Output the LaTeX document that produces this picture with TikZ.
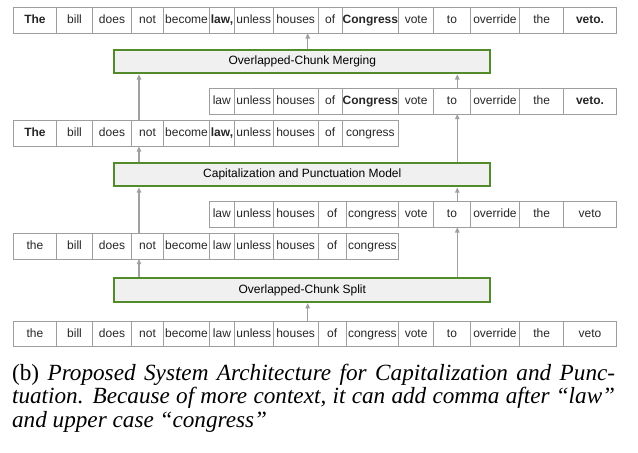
\documentclass[tikz,border=0pt]{standalone}
\usepackage{fontspec}
\setsansfont{Liberation Sans}
\newfontfamily\capfont{Liberation Serif}
\usetikzlibrary{positioning, arrows.meta}

\definecolor{cellline}{HTML}{9E9E9E}
\definecolor{boxline}{HTML}{548B2A}
\definecolor{boxfill}{HTML}{F0F0F0}
\definecolor{flowline}{HTML}{A0A0A0}

\tikzset{
  cell/.style={draw=cellline, line width=0.5pt, inner sep=0pt, outer sep=0pt,
    minimum height=12.8pt, text height=4.5pt, text depth=1.3pt,
    text=black!85, font=\sffamily\fontsize{6}{7}\selectfont},
  stage/.style={draw=boxline, fill=boxfill, line width=1pt, inner sep=0pt,
    minimum width=188pt, minimum height=11.9pt, text height=4.5pt, text depth=1.3pt,
    font=\sffamily\fontsize{6}{7}\selectfont},
  flow/.style={draw=flowline, line width=0.65pt, -{Triangle[length=2.6pt,width=2.2pt]}}
}

% one row of word cells: prefix, start point, list of word/width
\newcommand{\wordrow}[3]{%
  \coordinate (#10) at #2;
  \foreach \wtext/\wlen [count=\i] in {#3}{%
    \pgfmathtruncatemacro\j{\i-1}
    \node[cell, minimum width=\wlen*0.5pt, right=0pt of #1\j] (#1\i) {\wtext};
  }%
}

\begin{document}
\begin{tikzpicture}[x=0.5pt, y=-0.5pt]
    \useasboundingbox (0,0) rectangle (638,452);
    % output and chunks
    \wordrow{a}{(13.3,20.5)}{\textbf{The}/43.4, bill/35.6, does/39.4, not/31.6, become/46.4, {\textbf{law,}}/24.6, unless/39, houses/44.7, of/24.3, \textbf{Congress}/56.2, vote/35.2, to/36.6, override/49.4, the/44, \textbf{veto.}/52.6}
    \wordrow{b}{(209.3,101.2)}{law/25, unless/39, houses/44.7, of/24.3, \textbf{Congress}/56.2, vote/35.2, to/36.6, override/49.4, the/44, \textbf{veto.}/52.6}
    \wordrow{c}{(13.3,133.5)}{\textbf{The}/43.4, bill/35.6, does/39.4, not/31.6, become/46.4, {\textbf{law,}}/24.6, unless/39, houses/44.7, of/24.3, congress/56.2}
    \wordrow{d}{(209.3,214.5)}{law/25, unless/39, houses/44.7, of/28.3, congress/52.2, vote/35.2, to/36.6, override/49.4, the/44, veto/52.6}
    \wordrow{e}{(13.3,246.2)}{the/43.4, bill/35.6, does/39.4, not/31.6, become/46.4, law/24.6, unless/39, houses/44.7, of/28.3, congress/52.2}
    \wordrow{f}{(13.3,334)}{the/43.4, bill/35.6, does/39.4, not/31.6, become/46.4, law/24.6, unless/39, houses/44.7, of/28.3, congress/52.2, vote/35.2, to/36.6, override/49.4, the/44, veto/52.6}
    % stages
    \node[stage] (merge) at (302.3,61.4) {Overlapped-Chunk Merging};
    \node[stage] (cap) at (302.3,174.5) {Capitalization and Punctuation Model};
    \node[stage] (split) at (302.3,290.2) {Overlapped-Chunk Split};
    \coordinate (colL) at (139,0);
    \coordinate (colM) at (307.7,0);
    \coordinate (colR) at (457.3,0);
    \draw[flow] (f8.north -| colM) -- (split.south -| colM);
    \draw[flow] (split.north -| colL) -- (e4.south -| colL);
    \draw[flow] (split.north -| colR) -- (d7.south -| colR);
    \draw[flow] (e4.north -| colL) -- (cap.south -| colL);
    \draw[flow] (d7.north -| colR) -- (cap.south -| colR);
    \draw[flow] (cap.north -| colL) -- (c4.south -| colL);
    \draw[flow] (cap.north -| colR) -- (b7.south -| colR);
    \draw[flow] (c4.north -| colL) -- (merge.south -| colL);
    \draw[flow] (b7.north -| colR) -- (merge.south -| colR);
    \draw[flow] (merge.north -| colM) -- (a8.south -| colM);
    % caption
    \node[anchor=base west, inner sep=0pt] (caption) at (11.7,380) {\parbox[t]{301.5pt}{\capfont\fontsize{11.6}{11.9}\selectfont
      \makebox[\linewidth][s]{(b) \textit{Proposed System Architecture for Capitalization and Punc-}}\\
      \makebox[\linewidth][s]{\textit{tuation. Because of more context, it can add comma after “law”}}\\
      \textit{and upper case “congress”}}};
\end{tikzpicture}
\end{document}
